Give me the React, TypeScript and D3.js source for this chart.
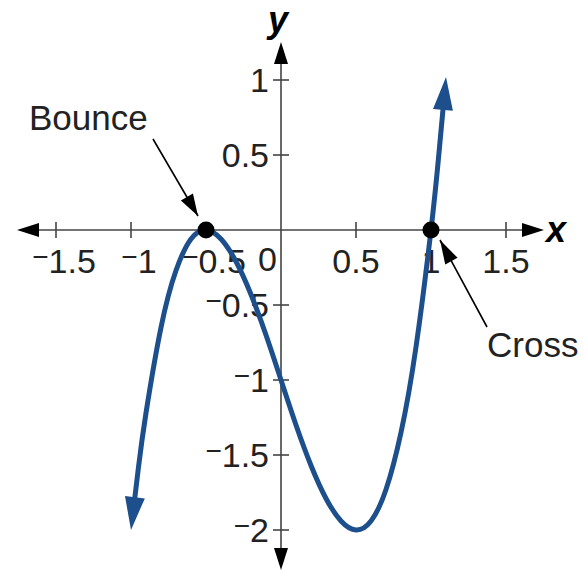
import React, { useEffect, useRef } from "react";
import * as d3 from "d3";

const width = 586;
const height = 572;
const font = "'Liberation Sans', Arial, sans-serif";
const curveColor = "#1c4f8b";
const axisColor = "#444";

// points
const curveX = [-1, -0.95, -0.9, -0.8, -0.7, -0.6, -0.5, -0.4, -0.3, -0.2, -0.1, 0, 0.1, 0.2, 0.3, 0.4, 0.5, 0.6, 0.7, 0.8, 0.9, 1, 1.05, 1.1];
const curveY = [-2, -1.58, -1.22, -0.65, -0.27, -0.06, 0, -0.06, -0.21, -0.43, -0.7, -1, -1.3, -1.57, -1.79, -1.94, -2, -1.94, -1.73, -1.35, -0.78, 0, 0.48, 1.02];

const xTicks = [-1.5, -1, -0.5, 0.5, 1, 1.5];
const yTicks = [-2, -1.5, -1, -0.5, 0.5, 1];
const zeros = [
  { name: "Bounce", x: -0.5, y: 0 },
  { name: "Cross", x: 1, y: 0 }
];

const x = d3.scaleLinear().domain([-1.5, 1.5]).range([56, 506]);
const y = d3.scaleLinear().domain([-2, 1]).range([530, 80]);

function arrowHead(tip: [number, number], from: [number, number], len: number, half: number) {
  const dx = tip[0] - from[0];
  const dy = tip[1] - from[1];
  const d = Math.hypot(dx, dy);
  const ux = dx / d, uy = dy / d;
  const bx = tip[0] - ux * len, by = tip[1] - uy * len;
  return `M${tip[0]},${tip[1]}L${bx - uy * half},${by + ux * half}L${bx + uy * half},${by - ux * half}Z`;
}

function label(sel: any, v: number) {
  const s = Math.abs(v).toString();
  if (v < 0) {
    sel.append("tspan").attr("font-size", 28).attr("dy", -7).text("\u2212");
    sel.append("tspan").attr("dy", 7).text(s);
  } else {
    sel.text(s);
  }
}

export default function App() {
  const ref = useRef<SVGSVGElement>(null);

  useEffect(() => {
    const svg = d3.select(ref.current);
    svg.selectAll("*").remove();
    const x0 = x(0), y0 = y(0);

    // axes
    const ax = svg.append("g").attr("stroke", axisColor).attr("stroke-width", 1.6);
    ax.append("line").attr("x1", 30).attr("x2", 530).attr("y1", y0).attr("y2", y0);
    ax.append("line").attr("x1", x0).attr("x2", x0).attr("y1", 58).attr("y2", 555);
    ax.selectAll(".xt").data(xTicks).join("line")
      .attr("x1", (d) => x(d)).attr("x2", (d) => x(d)).attr("y1", y0 - 8).attr("y2", y0 + 8);
    ax.selectAll(".yt").data(yTicks).join("line")
      .attr("x1", x0 - 8).attr("x2", x0 + 8).attr("y1", (d) => y(d)).attr("y2", (d) => y(d));

    const heads = [
      arrowHead([17, y0], [40, y0], 22, 7),
      arrowHead([544, y0], [520, y0], 22, 7),
      arrowHead([x0, 42], [x0, 70], 22, 7),
      arrowHead([x0, 570], [x0, 540], 22, 7)
    ];
    svg.append("g").selectAll("path").data(heads).join("path").attr("d", (d) => d).attr("fill", "#000");

    // tick labels
    svg.append("g").attr("font-family", font).attr("font-size", 34).attr("fill", "#222")
      .selectAll("text").data(xTicks).join("text")
      .attr("x", (d) => x(d) + (d < 0 ? 8 : 0)).attr("y", y0 + 43)
      .attr("text-anchor", "middle")
      .each(function (d) { label(d3.select(this), d); });
    svg.append("g").attr("font-family", font).attr("font-size", 34).attr("fill", "#222")
      .selectAll("text").data(yTicks).join("text")
      .attr("x", x0 - 12).attr("y", (d) => y(d) + 12)
      .attr("text-anchor", "end")
      .each(function (d) { label(d3.select(this), d); });
    svg.append("text").attr("font-family", font).attr("font-size", 34).attr("fill", "#222")
      .attr("x", x0 - 4).attr("y", y0 + 41).attr("text-anchor", "end").text("0");

    // axis names
    svg.append("text").attr("font-family", font).attr("font-size", 36).attr("font-weight", "bold")
      .attr("font-style", "italic").attr("x", 546).attr("y", y0 + 12).text("x");
    svg.append("text").attr("font-family", font).attr("font-size", 36).attr("font-weight", "bold")
      .attr("font-style", "italic").attr("x", 268).attr("y", 32).text("y");

    // curve
    const pts: [number, number][] = curveX.map((v, i) => [x(v), y(curveY[i])]);
    const line = d3.line().curve(d3.curveNatural);
    const path = svg.append("path").attr("d", line(pts)).attr("fill", "none")
      .attr("stroke", curveColor).attr("stroke-width", 5);
    const L = (path.node() as SVGPathElement).getTotalLength();
    const trim = 22;
    path.attr("stroke-dasharray", `0,${trim},${L - 2 * trim},${trim}`);
    const n = pts.length;
    svg.append("path").attr("d", arrowHead(pts[0], pts[1], 33, 10)).attr("fill", curveColor);
    svg.append("path").attr("d", arrowHead(pts[n - 1], pts[n - 2], 33, 10)).attr("fill", curveColor);

    // zeros
    svg.append("g").selectAll("circle").data(zeros).join("circle")
      .attr("cx", (d) => x(d.x)).attr("cy", (d) => y(d.y)).attr("r", 8.5).attr("fill", "#000");

    // annotations
    const ann = svg.append("g");
    const bTip: [number, number] = [x(-0.5) - 8, y0 - 14];
    const bFrom: [number, number] = [153, 139];
    ann.append("line").attr("x1", bFrom[0]).attr("y1", bFrom[1]).attr("x2", bTip[0]).attr("y2", bTip[1])
      .attr("stroke", "#000").attr("stroke-width", 1.6);
    ann.append("path").attr("d", arrowHead(bTip, bFrom, 22, 7)).attr("fill", "#000");
    const cTip: [number, number] = [x(1) + 9, y0 + 10];
    const cFrom: [number, number] = [487, 327];
    ann.append("line").attr("x1", cFrom[0]).attr("y1", cFrom[1]).attr("x2", cTip[0]).attr("y2", cTip[1])
      .attr("stroke", "#000").attr("stroke-width", 1.6);
    ann.append("path").attr("d", arrowHead(cTip, cFrom, 24, 7)).attr("fill", "#000");

    ann.append("text").attr("font-family", font).attr("font-size", 35).attr("fill", "#222")
      .attr("x", 29).attr("y", 130).text(zeros[0].name);
    ann.append("text").attr("font-family", font).attr("font-size", 35).attr("fill", "#222")
      .attr("x", 487).attr("y", 357).text(zeros[1].name);
  }, []);

  return (
    <svg
      ref={ref}
      width={width}
      height={height}
      style={{ position: "absolute", left: 0, top: 0, background: "#fff" }}
    />
  );
}
